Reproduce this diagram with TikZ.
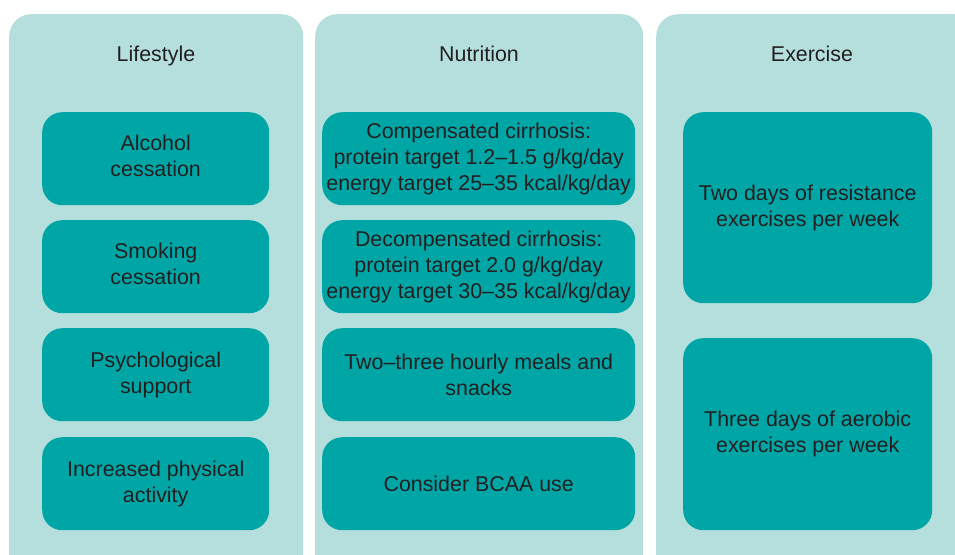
\documentclass[tikz,border=0pt]{standalone}
\usepackage{fontspec}
\setmainfont{Liberation Sans}
\definecolor{panelc}{HTML}{B5DFDD}
\definecolor{boxc}{HTML}{00A6A6}
\definecolor{txtc}{HTML}{231F20}
\begin{document}
\begin{tikzpicture}[x=1pt,y=-1pt,
  panel/.style={fill=panelc,draw=none,rounded corners=22pt,anchor=north west,inner sep=0pt},
  item/.style={fill=boxc,draw=none,rounded corners=20pt,anchor=north west,inner sep=0pt},
  itemtext/.style={text=txtc,font=\fontsize{21.4}{26}\selectfont,align=center,inner sep=0pt},
  title/.style={text=txtc,font=\fontsize{21.4}{26}\selectfont,inner sep=0pt,anchor=base}]
\useasboundingbox (0,0) rectangle (955,554);
\clip (0,0) rectangle (955,554);
% panels
\node[panel,minimum width=294pt,minimum height=570pt] (p1) at (9,14) {};
\node[panel,minimum width=328pt,minimum height=570pt] (p2) at (315,14) {};
\node[panel,minimum width=320pt,minimum height=570pt] (p3) at (656,14) {};
% titles
\node[title] (t1) at (156,61) {Lifestyle};
\node[title] (t2) at (479,61) {Nutrition};
\node[title] (t3) at (812,61) {Exercise};
% lifestyle
\node[item,minimum width=227pt,minimum height=93pt] (l1) at (42,112) {};
\node[itemtext,yshift=2.5pt] (l1t) at (l1.center) {Alcohol\\cessation};
\node[item,minimum width=227pt,minimum height=93pt] (l2) at (42,220) {};
\node[itemtext,yshift=2.5pt] (l2t) at (l2.center) {Smoking\\cessation};
\node[item,minimum width=227pt,minimum height=93pt] (l3) at (42,328) {};
\node[itemtext] (l3t) at (l3.center) {Psychological\\support};
\node[item,minimum width=227pt,minimum height=93pt] (l4) at (42,437) {};
\node[itemtext] (l4t) at (l4.center) {Increased physical\\activity};
% nutrition
\node[item,minimum width=313pt,minimum height=93pt] (n1) at (322,112) {};
\node[itemtext] (n1t) at (n1.center) {Compensated cirrhosis:\\protein target 1.2–1.5 g/kg/day\\energy target 25–35 kcal/kg/day};
\node[item,minimum width=313pt,minimum height=93pt] (n2) at (322,220) {};
\node[itemtext] (n2t) at (n2.center) {Decompensated cirrhosis:\\protein target 2.0 g/kg/day\\energy target 30–35 kcal/kg/day};
\node[item,minimum width=313pt,minimum height=93pt] (n3) at (322,328) {};
\node[itemtext] (n3t) at (n3.center) {Two–three hourly meals and\\snacks};
\node[item,minimum width=313pt,minimum height=93pt] (n4) at (322,437) {};
\node[itemtext] (n4t) at (n4.center) {Consider BCAA use};
% exercise
\node[item,minimum width=249pt,minimum height=191pt] (e1) at (683,112) {};
\node[itemtext] (e1t) at (e1.center) {Two days of resistance\\exercises per week};
\node[item,minimum width=249pt,minimum height=192pt] (e2) at (683,338) {};
\node[itemtext] (e2t) at (e2.center) {Three days of aerobic\\exercises per week};
\end{tikzpicture}
\end{document}
